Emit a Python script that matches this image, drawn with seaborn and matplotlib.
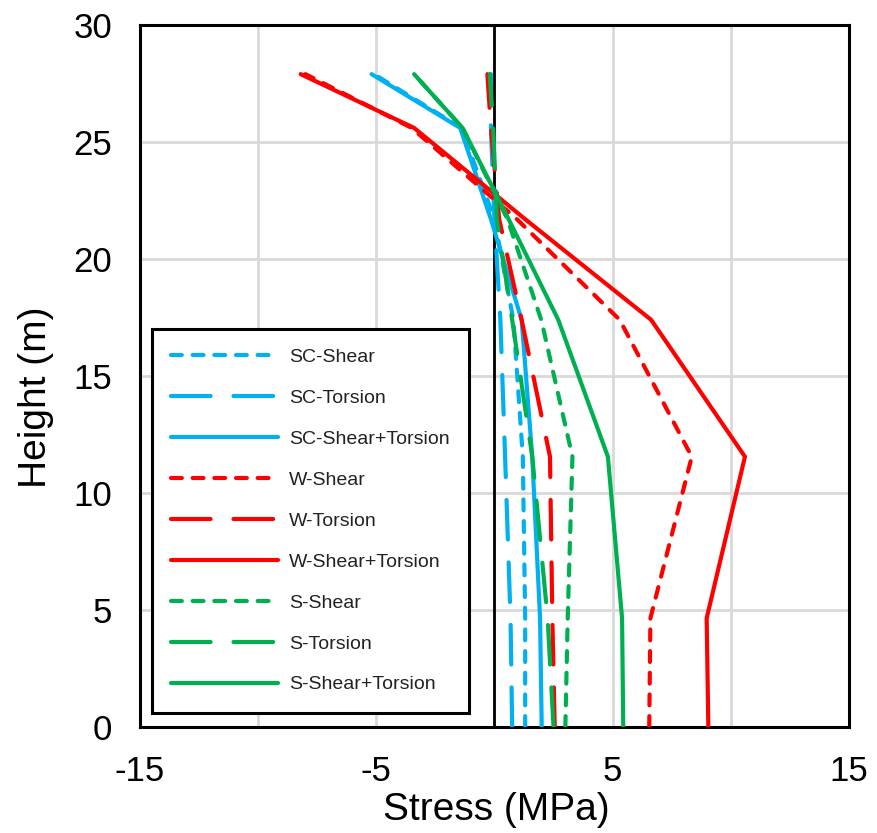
import matplotlib
matplotlib.use("Agg")
import matplotlib.pyplot as plt
import pandas as pd
import seaborn as sns

# Story heights (m)
HEIGHT = [0, 4.65, 11.55, 17.4, 21.7, 25.6, 27.9]

# Stress (MPa) at each height
SC_SHEAR = [1.3, 1.3, 1.2, 0.8, 0.0, -1.4, -5.1]
SC_TORSION = [0.75, 0.68, 0.45, 0.25, 0.0, -0.15, -0.15]
SC_BOTH = [2.0, 1.93, 1.6, 1.15, -0.15, -1.45, -5.2]
W_SHEAR = [6.55, 6.6, 8.35, 5.3, 0.95, -3.5, -8.0]
W_TORSION = [2.55, 2.45, 2.35, 1.15, 0.2, -0.15, -0.3]
W_BOTH = [9.05, 8.98, 10.6, 6.63, 1.3, -3.4, -8.2]
S_SHEAR = [3.0, 3.1, 3.3, 1.98, 0.55, -1.35, -3.4]
S_TORSION = [2.5, 2.25, 1.6, 0.75, 0.1, -0.05, -0.2]
S_BOTH = [5.45, 5.4, 4.8, 2.7, 0.6, -1.35, -3.4]

SERIES = {
    "SC-Shear": SC_SHEAR,
    "SC-Torsion": SC_TORSION,
    "SC-Shear+Torsion": SC_BOTH,
    "W-Shear": W_SHEAR,
    "W-Torsion": W_TORSION,
    "W-Shear+Torsion": W_BOTH,
    "S-Shear": S_SHEAR,
    "S-Torsion": S_TORSION,
    "S-Shear+Torsion": S_BOTH,
}

X_TICKS = [-15, -10, -5, 0, 5, 10, 15]
X_TICK_LABELS = ["-15", "", "-5", "", "5", "", "15"]
Y_TICKS = [0, 5, 10, 15, 20, 25, 30]

BLUE, RED, GREEN = "#00B0F0", "#FF0000", "#00B050"
SHORT = (2.6, 2.6)
LONG = (9.5, 5.5)

palette = {}
dashes = {}
for name in SERIES:
    palette[name] = BLUE if name.startswith("SC") else RED if name.startswith("W") else GREEN
    if name.endswith("Shear+Torsion"):
        dashes[name] = ""
    elif name.endswith("Shear"):
        dashes[name] = SHORT
    else:
        dashes[name] = LONG

rows = []
for name, vals in SERIES.items():
    for i, (h, v) in enumerate(zip(HEIGHT, vals)):
        rows.append({"series": name, "order": i, "height": h, "stress": v})
df = pd.DataFrame(rows)

sns.set_style("white")
plt.rcParams["font.family"] = ["Liberation Sans", "DejaVu Sans"]

fig = plt.figure(figsize=(8.77, 8.33), dpi=100)
ax = fig.add_axes([0.1596, 0.1273, 0.8084, 0.8427])

ax.axvline(0, color="black", lw=2, zorder=1)

sns.lineplot(
    data=df, x="stress", y="height", hue="series", style="series",
    hue_order=list(SERIES), style_order=list(SERIES),
    palette=palette, dashes=dashes, sort=False, estimator=None,
    lw=3, legend=False, ax=ax, zorder=3,
    dash_capstyle="round", solid_capstyle="round",
)

ax.set_xlim(-15, 15)
ax.set_ylim(0, 30)
ax.set_xticks(X_TICKS)
ax.set_xticklabels(X_TICK_LABELS)
ax.set_yticks(Y_TICKS)
ax.tick_params(axis="both", labelsize=25, length=0, colors="black")
ax.tick_params(axis="x", pad=20)
ax.tick_params(axis="y", pad=20)
ax.grid(True, color="#d9d9d9", lw=2)
ax.set_axisbelow(True)
for sp in ax.spines.values():
    sp.set_color("black")
    sp.set_linewidth(2.2)

ax.set_xlabel("Stress (MPa)", fontsize=28, color="black")
ax.set_ylabel("Height (m)", fontsize=28, color="black")
ax.xaxis.set_label_coords(0.502, -0.093)
ax.yaxis.set_label_coords(-0.121, 0.47)

handles = [ln for ln in ax.lines[1:]]
leg = ax.legend(
    handles, list(SERIES), loc="lower left", bbox_to_anchor=(0.017, 0.02),
    borderaxespad=0, fontsize=14, handlelength=5.5, handletextpad=0.55,
    labelspacing=1.2, borderpad=1.0, frameon=True, fancybox=False,
    framealpha=1,
)
leg.get_frame().set_edgecolor("black")
leg.get_frame().set_linewidth(2.2)
for t in leg.get_texts():
    t.set_color("#222222")

fig.savefig("out.png", dpi=100)
